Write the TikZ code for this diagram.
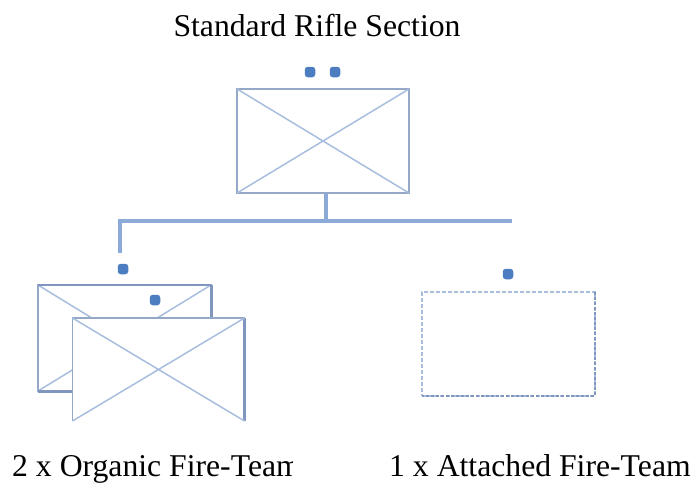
\documentclass[tikz,border=0pt]{standalone}
\usepackage{fontspec}
\setmainfont{Liberation Serif}
\definecolor{edgec}{RGB}{150,168,200}
\definecolor{diagc}{RGB}{168,190,222}
\definecolor{connc}{RGB}{140,170,215}
\definecolor{dotc}{RGB}{75,125,192}
\definecolor{shadec}{RGB}{128,150,190}
\begin{document}
\begin{tikzpicture}[x=1pt,y=-1pt,
  box/.style={draw=edgec, fill=white, line width=1.4pt, minimum width=172pt, minimum height=104pt, inner sep=0pt, outer sep=0pt},
  diagline/.style={draw=diagc, line width=1.5pt},
  shadeline/.style={draw=shadec, line width=3pt},
  dotm/.style={fill=dotc, rounded corners=3pt, minimum size=10.5pt, inner sep=0pt},
  connline/.style={draw=connc, line width=3.8pt},
  lbl/.style={font=\fontsize{31.7}{36}\selectfont, inner sep=0pt, anchor=base}]
\useasboundingbox (0,0) rectangle (695,483);

% title
\node[lbl] (title) at (317,36) {Standard Rifle Section};

% top box
\node[box] (top) at (323,141) {};
\draw[diagline] (top.north west) -- (top.south east) (top.north east) -- (top.south west);
\node[dotm] (d1) at (310,72) {};
\node[dotm] (d2) at (335,72) {};

% connectors
\coordinate (j) at (326,221);
\coordinate (jl) at (120,221);
\coordinate (jr) at (512,221);
\coordinate (jd) at (120,253);
\draw[connline] (top.south -| j) -- (j);
\draw[connline] (jd) -- (jl) -- (jr);

% back box of the pair
\node[dotm] (d3) at (123,269) {};
\node[box, minimum width=173pt, minimum height=106pt] (back) at (124.5,338) {};
\draw[diagline] (back.north west) -- (back.south east) (back.north east) -- (back.south west);
\draw[shadeline] (back.south west) -- (back.south east) -- (back.north east);
\draw[draw=shadec, line width=1.8pt] (back.north west) -- (back.north east);
\node[dotm] (d4) at (155,300) {};

% front box of the pair (no bottom edge)
\node[minimum width=172pt, minimum height=103pt, inner sep=0pt, outer sep=0pt, fill=white] (front) at (158.5,369.5) {};
\draw[draw=edgec, line width=1.4pt] (front.south west) -- (front.north west) -- (front.north east);
\draw[draw=shadec, line width=2.2pt] (front.north east) -- (front.south east);
\draw[diagline] (front.north west) -- (front.south east) (front.north east) -- (front.south west);

% attached box
\node[dotm] (d5) at (508,274) {};
\node[box, draw=diagc, dash pattern=on 4pt off 2pt, minimum width=173pt] (att) at (508.5,344) {};
\draw[draw=shadec, line width=2.2pt, dash pattern=on 3pt off 2pt] (att.north east) -- (att.south east) -- (att.south west);

% labels
\begin{scope}
  \clip (0,430) rectangle (292,483);
  \node[lbl, anchor=base west] (l1) at (12,476) {2 x Organic Fire-Team};
\end{scope}
\node[lbl, anchor=base west] (l2) at (389,476) {1 x Attached Fire-Team};
\end{tikzpicture}
\end{document}
